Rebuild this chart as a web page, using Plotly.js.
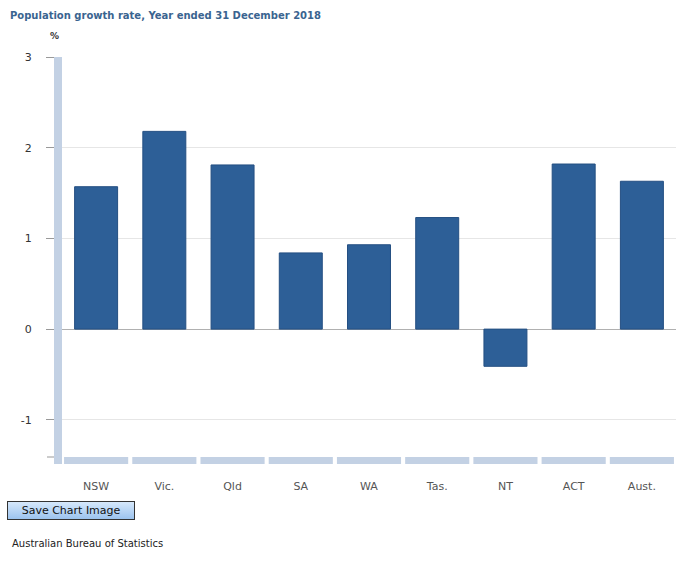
<!DOCTYPE html>
<html>
<head>
<meta charset="utf-8">
<script src="https://cdn.plot.ly/plotly-3.0.1.min.js"></script>
<style>
  html, body { margin: 0; padding: 0; background: #fff; }
  #wrap { position: relative; width: 693px; height: 562px; }
  #chart { position: absolute; left: 0; top: 0; width: 693px; height: 562px; }
  #savebtn {
    position: absolute; left: 7px; top: 501px; width: 126px; height: 17px;
    border: 1px solid #333; background: linear-gradient(#d6e8fb, #9cc3ee);
    font-family: "DejaVu Sans", Verdana, sans-serif; font-size: 11px; color: #111;
    text-align: center; line-height: 17px;
  }
</style>
</head>
<body>
<div id="wrap">
  <div id="chart"></div>
  <div id="savebtn">Save Chart Image</div>
</div>
<script>
const categories = ["NSW", "Vic.", "Qld", "SA", "WA", "Tas.", "NT", "ACT", "Aust."];
const growthRate = [1.57, 2.18, 1.81, 0.84, 0.93, 1.23, -0.41, 1.82, 1.63];
const yTickValues = [-1, 0, 1, 2, 3];
const titleText = "Population growth rate, Year ended 31 December 2018";
const unitText = "%";
const sourceText = "Australian Bureau of Statistics";

const font = "DejaVu Sans, Verdana, sans-serif";
const bandColor = "#c3d1e4";

const shapes = [];
// left thick axis band
shapes.push({type: "rect", xref: "paper", yref: "paper", x0: -8/614, x1: 0, y0: -7/400, y1: 1,
  fillcolor: bandColor, line: {width: 0}, layer: "above"});
// bottom tick at axis start
shapes.push({type: "line", xref: "paper", yref: "paper", x0: -15/614, x1: -8/614, y0: 0, y1: 0,
  line: {color: "#999", width: 1}, layer: "above"});
// bottom axis band segments per category
categories.forEach((c, i) => {
  shapes.push({type: "rect", xref: "x", yref: "paper", x0: i - 0.47, x1: i + 0.47, y0: -7/400, y1: 0,
    fillcolor: bandColor, line: {width: 0}, layer: "above"});
});

const data = [{
  type: "bar",
  x: categories,
  y: growthRate,
  marker: {color: "#2d5f97", line: {color: "#244f82", width: 1}},
  width: 0.63,
  hoverinfo: "none"
}];

const layout = {
  width: 693, height: 562,
  margin: {l: 62, r: 17, t: 57, b: 105},
  paper_bgcolor: "#fff", plot_bgcolor: "#fff",
  showlegend: false,
  xaxis: {
    type: "category",
    showgrid: false, zeroline: false, showline: false, ticks: "",
    tickfont: {family: font, size: 11, color: "#555"},
    ticklabelstandoff: 21
  },
  yaxis: {
    range: [-1.41, 3],
    tickvals: yTickValues,
    ticktext: yTickValues.map(String),
    showgrid: true, gridcolor: "#e6e6e6", gridwidth: 1,
    zeroline: true, zerolinecolor: "#b0b0b0", zerolinewidth: 1,
    showline: false,
    ticks: "outside", ticklen: 15, tickcolor: "#999", tickwidth: 1,
    tickfont: {family: font, size: 11, color: "#333"},
    ticklabelstandoff: 12
  },
  shapes: shapes,
  annotations: [
    {text: "<b>" + titleText + "</b>", xref: "paper", yref: "paper", x: -54/614, y: 1 + 42/400,
      xanchor: "left", yanchor: "middle", showarrow: false,
      font: {family: font, size: 10, color: "#3a6490"}},
    {text: "<b>" + unitText + "</b>", xref: "paper", yref: "paper", x: -14/614, y: 1 + 21/400,
      xanchor: "left", yanchor: "middle", showarrow: false,
      font: {family: font, size: 9, color: "#333"}},
    {text: sourceText, xref: "paper", yref: "paper", x: -52/614, y: -86/400,
      xanchor: "left", yanchor: "middle", showarrow: false,
      font: {family: font, size: 10, color: "#222"}}
  ]
};

Plotly.newPlot("chart", data, layout, {displayModeBar: false, staticPlot: true});
</script>
</body>
</html>
